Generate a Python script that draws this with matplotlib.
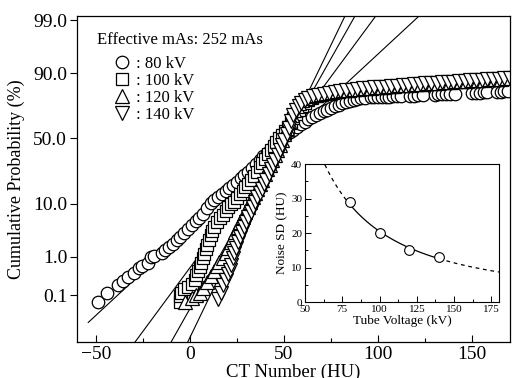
import matplotlib
matplotlib.use("Agg")
import matplotlib.pyplot as plt
import numpy as np
from statistics import NormalDist

plt.rcParams['font.family'] = ['Liberation Serif', 'DejaVu Serif']

# cumulative probability of CT numbers (HU, %)
ct_80 = [-49, -44, -38, -35.5, -33, -29.5, -27, -25.5, -22.5, -20.5, -19,
         -15, -13, -11, -9, -7, -5, -3, -1, 1, 3, 5, 7, 9, 11, 13, 15, 17, 19,
         21, 23, 25, 27, 29, 31, 33, 35, 37, 39, 41, 43, 45, 47, 49, 51, 53,
         55, 57, 59, 61, 63, 65, 67, 69, 71, 73, 75, 77, 79, 81, 83, 85, 87,
         89, 91, 93, 96, 98, 100, 102, 104, 106, 108, 110, 112, 117, 119, 121,
         124, 130, 132, 134, 136, 138, 141, 150, 152, 154, 156, 158, 163, 165,
         167, 169]
cum_80 = [0.062, 0.12, 0.19, 0.25, 0.31, 0.40, 0.52, 0.60, 0.70, 0.99, 1.05,
          1.2, 1.39, 1.6, 1.9, 2.3, 2.6, 3.1, 3.8, 4.4, 5.1, 5.9, 6.9, 8.4,
          10.2, 11.3, 12.5, 13.8, 15.2, 16.6, 18.1, 19.8, 21.8, 23.6, 25.5,
          27.8, 30.5, 33.4, 36.3, 39.0, 41.7, 44.4, 47.2, 50.0, 52.4, 54.8,
          56.8, 59.1, 61.0, 62.9, 64.8, 66.3, 67.7, 69.1, 70.5, 71.6, 72.6,
          73.6, 74.6, 75.5, 76.3, 77.0, 77.6, 78.2, 78.6, 78.9, 79.1, 79.2,
          79.3, 79.4, 79.4, 79.5, 79.6, 79.7, 79.8, 80.0, 80.1, 80.2, 80.3,
          80.6, 80.7, 80.8, 80.9, 81.0, 81.1, 81.5, 81.6, 81.7, 81.8, 81.9,
          82.1, 82.2, 82.3, 82.4]

ct_100 = [-5.5, -5, -4.5, -3, -1, 1, 2.5, 3.5, 4.5, 5.3, 6, 6.8, 7.5, 8.3, 9,
          10, 11, 12, 13, 14.5, 16, 17.5, 19, 20.5, 22, 23.5, 25, 26.5, 28,
          29.5, 31, 32.5, 34, 35.5, 37, 38.5, 40, 41.5, 43, 44.5, 46, 47.5, 49,
          50.5, 52, 53.5, 55, 56.5, 58, 59.5, 61, 63, 65, 67.5, 70, 73, 76, 79,
          82, 85, 88, 91, 94, 97, 100, 103, 106, 109, 112, 115, 118, 121, 124,
          127, 130, 133, 136, 139, 142, 145, 148, 151, 154, 157, 160, 163, 166,
          169]
cum_100 = [0.062, 0.097, 0.12, 0.15, 0.175, 0.21, 0.27, 0.35, 0.44, 0.55,
           0.71, 0.91, 1.16, 1.46, 1.83, 2.28, 2.8, 3.4, 4.1, 4.9, 5.8, 6.7,
           7.6, 8.7, 9.7, 10.7, 12.1, 13.6, 15.2, 16.9, 18.7, 20.6, 23.0, 25.5,
           28.4, 31.6, 34.5, 37.8, 40.9, 44.0, 47.2, 50.0, 52.8, 56.0, 59.1,
           62.2, 65.5, 68.4, 71.2, 73.9, 75.8, 77.3, 78.5, 79.7, 80.5, 81.1,
           81.6, 82.0, 82.4, 82.7, 83.0, 83.3, 83.6, 83.8, 84.0, 84.2, 84.4,
           84.6, 84.8, 85.0, 85.2, 85.4, 85.6, 85.8, 86.0, 86.2, 86.4, 86.5,
           86.7, 86.8, 87.0, 87.1, 87.3, 87.4, 87.5, 87.6, 87.8, 87.9]

ct_120 = [-2.7, 1, 3, 5.3, 7, 9, 11, 13, 14.5, 15.7, 17.7, 19.0, 20.3, 21.6,
          22.9, 24.2, 25.5, 26.8, 28.1, 29.4, 30.7, 32.0, 33.3, 34.6, 35.9,
          37.2, 38.5, 39.8, 41.1, 42.4, 43.7, 45.0, 46.3, 47.6, 48.9, 50.2,
          51.5, 52.8, 54.1, 55.4, 56.8, 58.2, 59.8, 61.8, 64, 66.5, 69, 72, 75,
          78, 81, 84, 87, 90, 93, 96, 99, 102, 105, 108, 111, 114, 117, 120,
          123, 126, 129, 132, 135, 138, 141, 144, 147, 150, 153, 156, 159, 162,
          165, 168]
cum_120 = [0.062, 0.082, 0.10, 0.12, 0.16, 0.23, 0.33, 0.44, 0.59, 0.75, 0.94,
           1.22, 1.58, 2.02, 2.6, 3.3, 4.1, 5.05, 6.2, 7.5, 9.0, 10.6, 12.3,
           14.2, 16.1, 18.4, 20.9, 23.9, 27.1, 30.2, 33.7, 37.4, 41.3, 44.8,
           48.8, 53.2, 58.3, 63.3, 68.1, 71.6, 73.9, 75.8, 77.3, 78.5, 79.7,
           80.5, 81.1, 81.5, 82.0, 82.4, 82.8, 83.1, 83.4, 83.7, 83.9, 84.2,
           84.4, 84.6, 84.8, 85.0, 85.2, 85.4, 85.6, 85.8, 86.0, 86.2, 86.4,
           86.5, 86.7, 86.8, 87.0, 87.1, 87.3, 87.4, 87.5, 87.7, 87.8, 87.9,
           88.0, 88.2]

ct_140 = [14.9, 16.5, 17.6, 19, 20.3, 21.3, 22, 22.7, 23.6, 24.6, 25.6, 26.6,
          27.7, 28.8, 29.9, 31.0, 32.2, 33.4, 34.6, 35.8, 37.0, 38.2, 39.4,
          40.6, 41.8, 43.0, 44.2, 45.4, 46.6, 47.8, 49.0, 50.2, 51.4, 52.6,
          53.8, 55.0, 56.3, 57.7, 59.2, 61, 63, 65.5, 68, 71, 74, 77, 80, 83,
          86, 89, 92, 95, 98, 101, 104, 107, 110, 113, 116, 119, 122, 125, 128,
          131, 134, 137, 140, 143, 146, 149, 152, 155, 158, 161, 164, 167, 170]
cum_140 = [0.08, 0.12, 0.19, 0.27, 0.37, 0.47, 0.65, 0.94, 1.22, 1.58, 2.02,
           2.6, 3.3, 4.1, 5.05, 6.2, 7.5, 9.0, 10.6, 12.3, 14.2, 16.1, 18.4,
           20.9, 23.9, 27.1, 30.2, 33.7, 37.4, 41.3, 44.8, 48.8, 53.2, 58.3,
           63.3, 68.1, 71.6, 73.9, 75.8, 77.3, 78.5, 79.7, 80.5, 81.2, 81.7,
           82.1, 82.5, 82.9, 83.2, 83.5, 83.8, 84.0, 84.3, 84.5, 84.7, 84.9,
           85.1, 85.3, 85.5, 85.7, 85.9, 86.1, 86.3, 86.5, 86.6, 86.8, 86.9,
           87.1, 87.2, 87.4, 87.5, 87.7, 87.8, 87.9, 88.1, 88.2, 88.4]

labels = [': 80 kV', ': 100 kV', ': 120 kV', ': 140 kV']
markers = ['o', 's', '^', 'v']
msizes = [9, 8.5, 9.5, 9.5]

# normal fits (mean from plot, SD = noise SD below)
tube_kv = [80, 100, 120, 140]
noise_sd = [29.1, 19.9, 15.2, 13.0]
fit_mean = [51.5, 50.7, 51.0, 51.0]
fit_from = [-54, -45, -25, -15]
fit_to = [135, 110, 100, 95]

nd = NormalDist()


def prob_fwd(p):
    p = np.clip(np.asarray(p, dtype=float) / 100.0, 1e-12, 1 - 1e-12)
    return np.vectorize(nd.inv_cdf, otypes=[float])(p)


def prob_inv(z):
    return np.vectorize(nd.cdf, otypes=[float])(np.asarray(z, dtype=float)) * 100.0


fig = plt.figure(figsize=(5.13, 3.78), dpi=100)
ax = fig.add_axes([0.150, 0.095, 0.844, 0.862])
ax.set_yscale('function', functions=(prob_fwd, prob_inv))

# fit lines go under the markers
for mu, sd, a, b in zip(fit_mean, noise_sd, fit_from, fit_to):
    xx = np.linspace(a, b, 60)
    ax.plot(xx, prob_inv((xx - mu) / sd), color='black', lw=0.8, zorder=1)

series = [(ct_80, cum_80), (ct_100, cum_100), (ct_120, cum_120), (ct_140, cum_140)]
handles = []
for (x, y), m, ms, lab in zip(series, markers, msizes, labels):
    h, = ax.plot(x, y, linestyle='none', marker=m, ms=ms, mfc='white',
                 mec='black', mew=0.9, label=lab, zorder=2)
    handles.append(h)

ax.set_xlim(-60, 170)
ax.set_ylim(0.003, 99.2)
ax.set_xticks([-50, 0, 50, 100, 150])
ax.set_xticks([-25, 25, 75, 125], minor=True)
yt = [0.1, 1, 10, 50, 90, 99]
ax.set_yticks(yt)
ax.set_yticklabels(['%.1f' % v for v in yt])
ax.yaxis.set_minor_locator(matplotlib.ticker.NullLocator())
ax.tick_params(axis='x', which='major', direction='in', length=5, width=0.8,
               labelsize=14, pad=3)
ax.tick_params(axis='x', which='minor', direction='in', length=3, width=0.8)
ax.tick_params(axis='y', direction='out', length=5, width=0.8, labelsize=14, pad=2)
for s in ax.spines.values():
    s.set_linewidth(0.9)
ax.set_xlabel('CT Number (HU)', fontsize=13.5, labelpad=0)
ax.set_ylabel('Cumulative Probability (%)', fontsize=13, labelpad=6)

ax.text(0.046, 0.926, 'Effective mAs: 252 mAs', transform=ax.transAxes,
        fontsize=12, va='center', ha='left')
ax.legend(handles=handles, loc='upper left', bbox_to_anchor=(0.082, 0.878),
          frameon=False, fontsize=12, handlelength=1.2, handletextpad=0.2,
          borderpad=0, borderaxespad=0, labelspacing=0.05)

# inset: noise SD vs tube voltage
ins = fig.add_axes([0.5945, 0.201, 0.378, 0.365])
ins.plot(tube_kv, noise_sd, linestyle='none', marker='o', ms=7, mfc='white',
         mec='black', mew=0.8, zorder=3)
b, a = np.polyfit(np.log(tube_kv), np.log(noise_sd), 1)
kv_in = np.linspace(tube_kv[0], tube_kv[-1], 100)
ins.plot(kv_in, np.exp(a) * kv_in ** b, color='black', lw=0.9)
for lo, hi in [(50, tube_kv[0]), (tube_kv[-1], 180)]:
    kv = np.linspace(lo, hi, 100)
    ins.plot(kv, np.exp(a) * kv ** b, color='black', lw=0.9, dashes=(3, 3))
ins.set_xlim(50, 180)
ins.set_ylim(0, 40)
ins.set_xticks([50, 75, 100, 125, 150, 175])
ins.set_xticks(np.arange(62.5, 180, 25), minor=True)
ins.set_yticks([0, 10, 20, 30, 40])
ins.set_yticks([5, 15, 25, 35], minor=True)
ins.tick_params(which='major', direction='in', length=4, width=0.7, labelsize=8, pad=2)
ins.tick_params(which='minor', direction='in', length=2, width=0.7)
for s in ins.spines.values():
    s.set_linewidth(0.8)
ins.set_xlabel('Tube Voltage (kV)', fontsize=9.5, labelpad=1)
ins.set_ylabel('Noise SD (HU)', fontsize=9.5, labelpad=2)

fig.savefig('out.png', dpi=100)
